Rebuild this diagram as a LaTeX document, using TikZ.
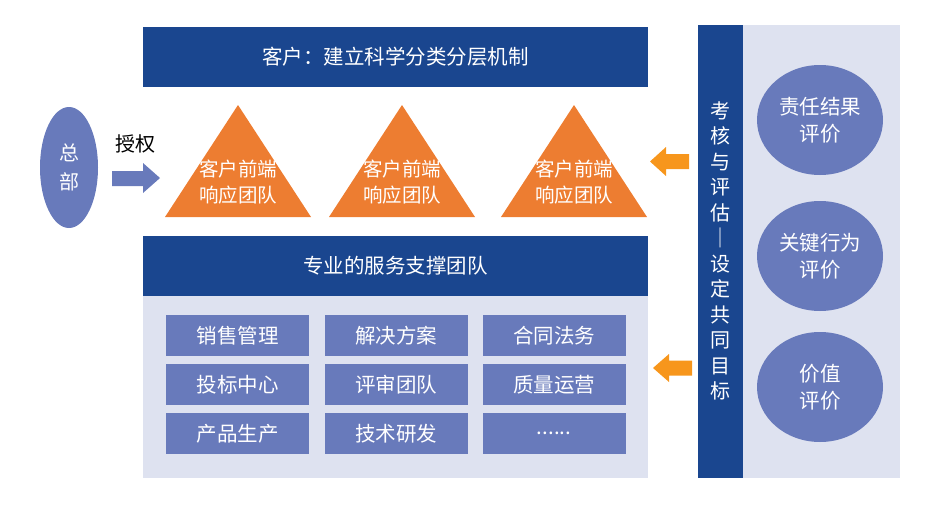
\documentclass[tikz,border=0pt]{standalone}
\usepackage{fontspec}
\newfontfamily\cjk{Noto Sans CJK SC}
\usetikzlibrary{shapes.geometric}
\definecolor{dblue}{RGB}{26,70,143}
\definecolor{mblue}{RGB}{104,122,187}
\definecolor{lpanel}{RGB}{222,226,240}
\definecolor{tri}{RGB}{237,125,49}
\definecolor{oarrow}{RGB}{247,150,28}
\tikzset{
  txt/.style={text=white, align=center, inner sep=0pt, font=\cjk\fontsize{20.5}{27}\selectfont},
  bar/.style={fill=dblue, inner sep=0pt, minimum width=505pt, minimum height=60pt, txt},
  cell/.style={fill=mblue, inner sep=0pt, minimum width=143pt, minimum height=41pt, txt},
  evalell/.style={ellipse, fill=mblue, inner sep=0pt, minimum width=126pt, minimum height=110pt, txt}
}
\begin{document}
\begin{tikzpicture}[x=1pt,y=-1pt]
\useasboundingbox (0,0) rectangle (940,514);
% top bar
\node[bar] (top) at (395.5,57) {客户：建立科学分类分层机制};
% HQ
\node[ellipse, fill=mblue, minimum width=58pt, minimum height=121pt, inner sep=0pt, txt, font=\cjk\fontsize{20}{29}\selectfont] (hq) at (69,167.5) {总\\部};
\node[inner sep=0pt, font=\cjk\fontsize{20}{24}\selectfont] (auth) at (135,144) {授权};
\fill[mblue] (112,171) -- (143,171) -- (143,163) -- (160,178) -- (143,193) -- (143,186) -- (112,186) -- cycle;
\coordinate (harrow) at (160,178);
% triangles
\foreach \i/\cx in {1/238,2/402,3/574}{
  \fill[tri] (\cx-73,217) -- (\cx,105) -- (\cx+73,217) -- cycle;
  \node[txt, font=\cjk\fontsize{19.5}{26}\selectfont] (t\i) at (\cx,182) {客户前端\\响应团队};
}
% lower panel
\fill[lpanel] (143,236) rectangle (648,478);
\node[bar] (sup) at (395.5,266) {专业的服务支撑团队};
\node[cell] (c11) at (237.5,335.5) {销售管理};
\node[cell] (c12) at (396,335.5) {解决方案};
\node[cell] (c13) at (554,335.5) {合同法务};
\node[cell] (c21) at (237.5,384.5) {投标中心};
\node[cell] (c22) at (396,384.5) {评审团队};
\node[cell] (c23) at (554,384.5) {质量运营};
\node[cell] (c31) at (237.5,433.5) {产品生产};
\node[cell] (c32) at (396,433.5) {技术研发};
\node[cell] (c33) at (554,433.5) {......};
% right side
\fill[lpanel] (743,25) rectangle (900,478);
\fill[dblue] (698,25) rectangle (743,478);
\node[txt, font=\cjk\fontsize{20}{25.5}\selectfont] (kh) at (720.5,251) {考\\核\\与\\评\\估\\｜\\设\\定\\共\\同\\目\\标};
\node[evalell] (e1) at (820,120) {责任结果\\评价};
\node[evalell] (e2) at (820,256) {关键行为\\评价};
\node[evalell] (e3) at (820,387) {价值\\评价};
% orange arrows
\fill[oarrow] (650,161.5) -- (666,147) -- (666,154) -- (689,154) -- (689,169) -- (666,169) -- (666,176) -- cycle;
\fill[oarrow] (653,368) -- (669,354) -- (669,360.5) -- (692,360.5) -- (692,375.5) -- (669,375.5) -- (669,382) -- cycle;
\end{tikzpicture}
\end{document}
